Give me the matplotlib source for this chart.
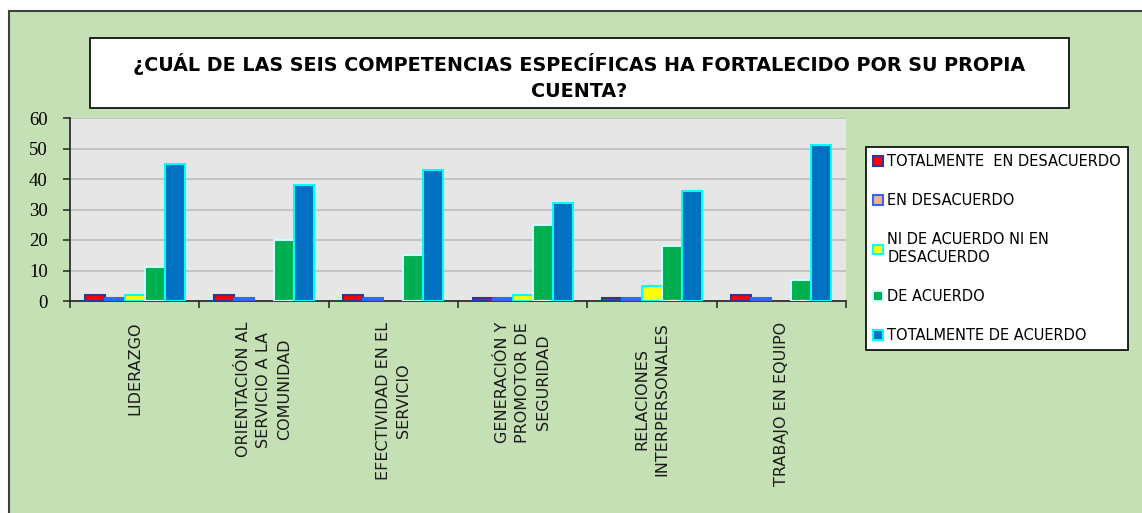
import matplotlib
matplotlib.use("Agg")
import matplotlib.pyplot as plt
import numpy as np
from matplotlib.patches import Patch, Rectangle

# ---- data -------------------------------------------------------------
categorias = [
    "LIDERAZGO",
    "ORIENTACIÓN AL\nSERVICIO A LA\nCOMUNIDAD",
    "EFECTIVIDAD EN EL\nSERVICIO",
    "GENERACIÓN Y\nPROMOTOR DE\nSEGURIDAD",
    "RELACIONES\nINTERPERSONALES",
    "TRABAJO EN EQUIPO",
]
series = [
    "TOTALMENTE  EN DESACUERDO",
    "EN DESACUERDO",
    "NI DE ACUERDO NI EN\nDESACUERDO",
    "DE ACUERDO",
    "TOTALMENTE DE ACUERDO",
]
tot_desacuerdo = [2, 2, 2, 1, 1, 2]
desacuerdo = [1, 1, 1, 1, 1, 1]
neutral = [2, 0, 0, 2, 5, 0]
de_acuerdo = [11, 20, 15, 25, 18, 7]
tot_acuerdo = [45, 38, 43, 32, 36, 51]
valores = [tot_desacuerdo, desacuerdo, neutral, de_acuerdo, tot_acuerdo]
yticks = [0, 10, 20, 30, 40, 50, 60]

TITULO = ("¿CUÁL DE LAS SEIS COMPETENCIAS ESPECÍFICAS HA FORTALECIDO POR SU PROPIA\n"
          "CUENTA?")

# fill / edge per series
FILLS = ["#FF0000", "#F4B183", "#FFFF00", "#00B050", "#0070C0"]
EDGES = ["#333399", "#3366FF", "#00FFFF", "#CCFFFF", "#00FFFF"]
BAR_FILLS = ["#FF0000", "#3366FF", "#FFFF00", "#00B050", "#0070C0"]

GREEN_BG = "#C5E0B4"
PLOT_BG = "#E6E6E6"

W, H = 1142, 513
fig = plt.figure(figsize=(W / 100, H / 100), dpi=100, facecolor="white")

# outer green chart area with dark frame (left / top only visible)
fig.patches.append(Rectangle((9 / W, -0.2), 1.2, 1 - 11 / H + 0.2,
                             transform=fig.transFigure, facecolor=GREEN_BG,
                             edgecolor="#404040", linewidth=1.5, zorder=0))

# title box
fig.patches.append(Rectangle((90 / W, 1 - 108 / H), 979 / W, 70 / H,
                             transform=fig.transFigure, facecolor="white",
                             edgecolor="black", linewidth=1.2, zorder=1))
fig.text(579.5 / W, 1 - 77 / H, TITULO, ha="center", va="center",
         fontsize=13.8, fontweight="bold", linespacing=1.5, zorder=2)

# plot area
ax = fig.add_axes([70 / W, 1 - 301 / H, 776 / W, 183 / H])
ax.set_facecolor(PLOT_BG)
ax.set_zorder(2)

x = np.arange(len(categorias))
bw = 0.155
for i, vals in enumerate(valores):
    lw = [1.5 if v > 0 else 0 for v in vals]
    ax.bar(x + (i - 2) * bw, vals, bw, color=BAR_FILLS[i],
           edgecolor=EDGES[i], linewidth=lw, zorder=3)

ax.set_xlim(-0.5, len(categorias) - 0.5)
ax.set_ylim(0, 60)
ax.set_yticks(yticks)
ax.yaxis.grid(True, color="#BEBEBE", linewidth=1.2)
ax.set_axisbelow(True)

for s in ["top", "right"]:
    ax.spines[s].set_visible(False)
for s in ["left", "bottom"]:
    ax.spines[s].set_color("#222222")
    ax.spines[s].set_linewidth(1.2)

ax.tick_params(axis="y", direction="out", length=5, width=1.1, color="#222222",
               pad=11, labelsize=13.5)
for t in ax.get_yticklabels():
    t.set_family("Liberation Serif")

ax.set_xticks(x)
ax.set_xticklabels(categorias, rotation=90, fontsize=11.5, linespacing=1.45,
                   color="#1a1a1a", multialignment="center")
ax.set_xticks(np.arange(-0.5, len(categorias)), minor=True)
ax.tick_params(axis="x", which="major", length=0, pad=15)
ax.tick_params(axis="x", which="minor", direction="out", length=5, width=1.1,
               color="#222222")

# legend
handles = [Patch(facecolor=FILLS[i], edgecolor=EDGES[i], linewidth=1.5)
           for i in range(len(series))]
leg = fig.legend(handles, series, loc="upper left",
                 bbox_to_anchor=(866 / W, 1 - 147 / H), fontsize=10.5,
                 frameon=True, fancybox=False, edgecolor="black", framealpha=1,
                 handlelength=0.65, handleheight=0.65, handletextpad=0.3,
                 labelspacing=1.65, borderpad=0.5, borderaxespad=0)
leg.get_frame().set_linewidth(1.2)
leg.get_frame().set_facecolor("white")
leg.set_zorder(3)

fig.savefig("out.png", dpi=100, facecolor="white")
